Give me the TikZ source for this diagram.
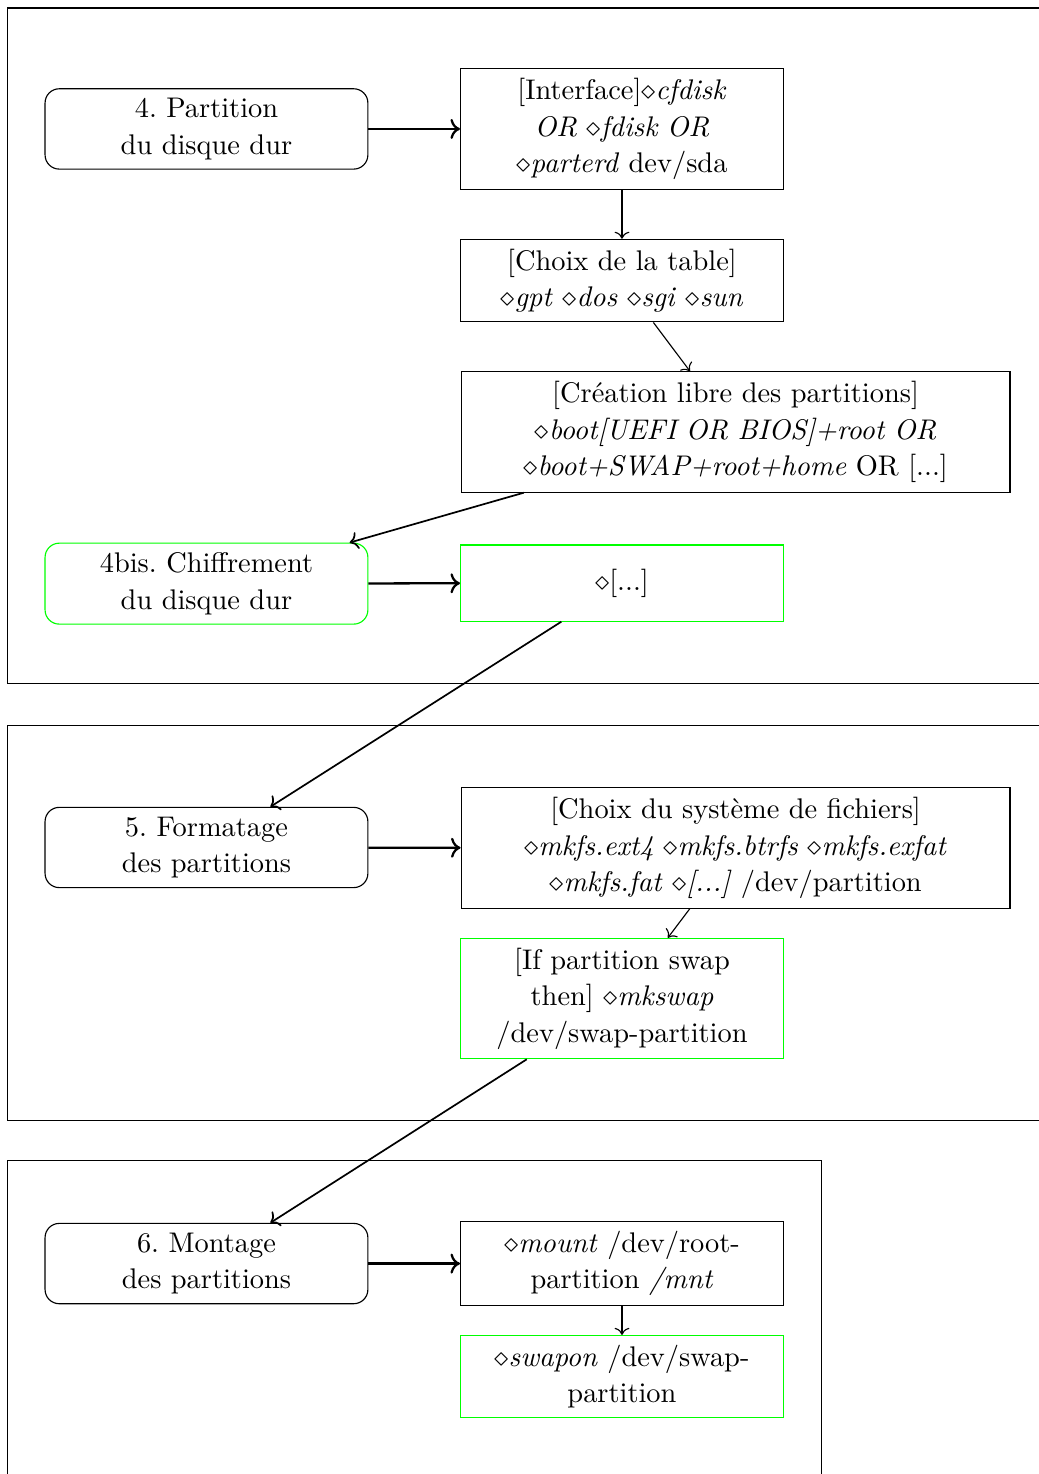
\documentclass[tikz,border=0pt]{standalone}
\usepackage{amsmath,amssymb}
\usepackage{tikz}
\usetikzlibrary{arrows.meta,positioning}
\frenchspacing

\begin{document}
\begin{tikzpicture}[etape/.style={draw, rounded corners=5pt, text width=107pt, align=center, minimum height=26.8pt, font=\fontsize{10}{12.85}\selectfont},
cmd/.style={draw, text width=107pt, align=center, minimum height=26.8pt, font=\fontsize{10}{12.85}\selectfont},
large/.style={cmd, text width=186.6pt},
option/.style={draw=green},
frame/.style={draw, thin},
shorten >=0pt]
\useasboundingbox (0pt, 0pt) rectangle (365.8pt, -519.0pt);
\clip (0pt, 0pt) rectangle (365.8pt, -519.0pt);
% cadres
\draw[frame] (2.5pt, -2.8pt) rectangle (380pt, -240.8pt);
\draw[frame] (2.5pt, -255.6pt) rectangle (380pt, -394.4pt);
\draw[frame] (2.5pt, -408.5pt) rectangle (289.1pt, -540pt);
% 4.
\draw (72.7pt, -45.4pt)node[etape](part){4. Partition\\du disque dur};
\draw (219.0pt, -45.4pt)node[cmd](iface){[Interface]$\diamond$\textit{cfdisk}\\\textit{OR $\diamond$fdisk OR}\\$\diamond$\textit{parterd} dev/sda};
\draw (219.0pt, -98.8pt)node[cmd](table){[Choix de la table]\\$\diamond$\textit{gpt} $\diamond$\textit{dos} $\diamond$\textit{sgi} $\diamond$\textit{sun}};
\draw (259.0pt, -152.1pt)node[large](creat){[Création libre des partitions]\\$\diamond$\textit{boot[UEFI OR BIOS]+root OR}\\$\diamond$\textit{boot+SWAP+root+home} OR [...]};
% 4bis.
\draw (72.7pt, -205.5pt)node[etape,option](chiff){4bis. Chiffrement\\du disque dur};
\draw (219.0pt, -205.3pt)node[cmd,option](crypt){$\diamond$[...]};
% 5.
\draw (72.7pt, -298.4pt)node[etape](form){5. Formatage\\des partitions};
\draw (259.0pt, -298.6pt)node[large](mkfs){[Choix du système de fichiers]\\$\diamond$\textit{mkfs.ext4} $\diamond$\textit{mkfs.btrfs} $\diamond$\textit{mkfs.exfat}\\$\diamond$\textit{mkfs.fat} $\diamond$\textit{[...]} /dev/partition};
\draw (219.0pt, -351.6pt)node[cmd,option](mkswap){[If partition swap\\then] $\diamond$\textit{mkswap}\\/dev/swap-partition};
% 6.
\draw (72.7pt, -444.9pt)node[etape](mont){6. Montage\\des partitions};
\draw (219.0pt, -444.9pt)node[cmd](mount){$\diamond$\textit{mount} /dev/root-\\partition \textit{/mnt}};
\draw (219.0pt, -484.7pt)node[cmd,option](swapon){$\diamond$\textit{swapon} /dev/swap-\\partition};
\path[->] (part) edge[thick] (iface);
\path[->] (iface) edge (table);
\path[->] (table) edge (creat);
\path[->] (creat) edge[semithick] (chiff);
\path[->] (chiff) edge[thick] (crypt);
\path[->] (crypt) edge[semithick] (form);
\path[->] (form) edge[thick] (mkfs);
\path[->] (mkfs) edge (mkswap);
\path[->] (mkswap) edge[semithick] (mont);
\path[->] (mont) edge[thick] (mount);
\path[->] (mount) edge (swapon);
\end{tikzpicture}
\end{document}
